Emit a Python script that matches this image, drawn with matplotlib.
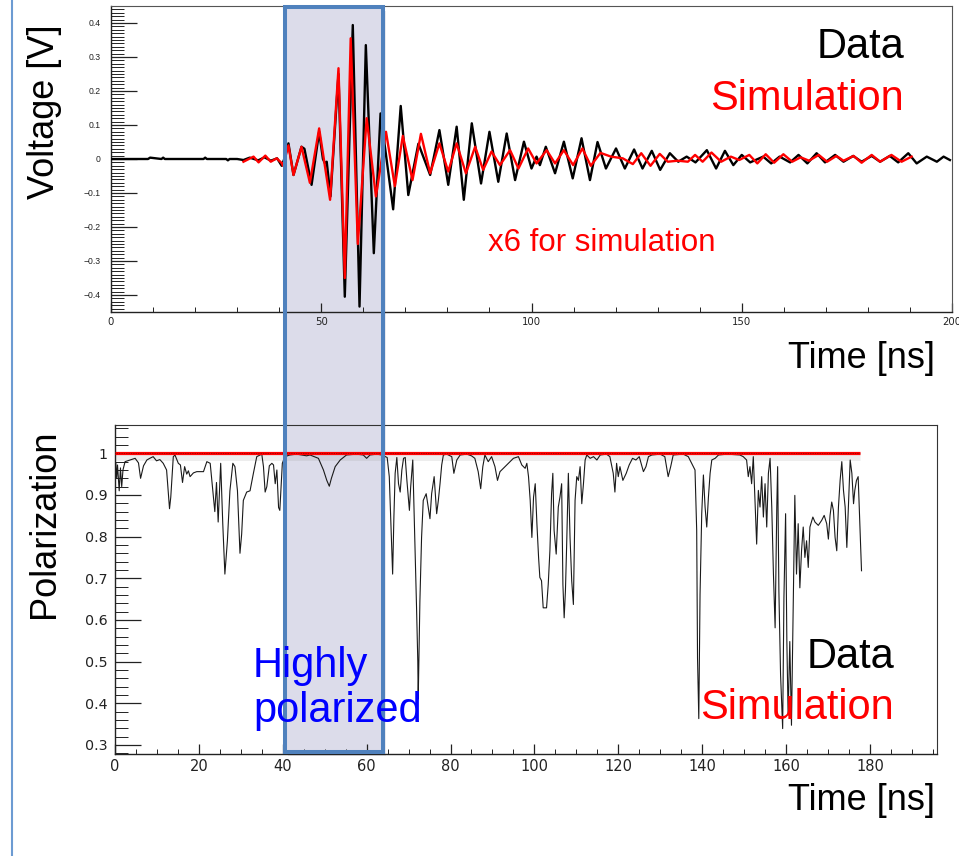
import matplotlib
matplotlib.use("Agg")
import matplotlib.pyplot as plt
from matplotlib import font_manager as fm
from matplotlib.patches import Rectangle
from matplotlib.lines import Line2D
from matplotlib.ticker import MultipleLocator

# ---------------- data: top panel (voltage waveform) ----------------
data_t = [0, 8.8, 9.3, 12.0, 12.4, 12.8, 22.0, 22.4, 22.8, 27.4, 27.8, 28.2, 30.0,
          31.5, 33.0, 35.0, 36.5, 38.0, 39.5, 40.6, 41.2, 42.2, 43.4, 45.3, 46.0,
          47.7, 49.5, 50.4, 50.9, 51.3, 52.2, 54.1, 55.6, 57.5, 59.1, 60.6, 62.5,
          64.1, 67.1, 68.9, 70.7, 73.1, 75.9, 78.1, 80.2, 82.2, 83.9, 85.8, 88.0,
          90.0, 92.1, 94.1, 96.1, 98.2, 100.0, 101.2, 102.0, 103.4, 105.6, 107.7,
          109.8, 111.9, 113.9, 115.7, 117.7, 120.1, 122.2, 124.4, 126.4, 128.6,
          130.6, 132.9, 134.9, 136.9, 139.0, 141.7, 143.9, 146.0, 148.0, 150.0,
          152.0, 155.1, 157.0, 159.0, 161.5, 163.5, 165.6, 167.8, 169.8, 172.2,
          174.2, 176.5, 178.5, 180.9, 182.9, 185.2, 187.2, 189.6, 191.6, 194.0,
          196.4, 198.0, 199.5]
data_v = [0, 0, 0.004, 0, 0.004, 0, 0, 0.004, 0, 0, -0.004, 0, 0,
          -0.003, 0.004, -0.004, 0.005, -0.005, 0.002, -0.02, 0.0, 0.046, -0.047, 0.036, 0.03,
          -0.076, 0.08, 0.0, -0.013, -0.008, -0.11, 0.25, -0.405, 0.394, -0.434, 0.335, -0.277,
          0.134, -0.148, 0.156, -0.106, 0.045, -0.047, 0.085, -0.076, 0.095, -0.12, 0.105, -0.072,
          0.08, -0.067, 0.075, -0.062, 0.051, -0.028, 0.007, -0.018, 0.036, -0.042, 0.051,
          -0.057, 0.061, -0.062, 0.05, -0.028, 0.031, -0.028, 0.028, -0.028, 0.024,
          -0.032, 0.017, -0.008, 0.007, -0.01, 0.026, -0.028, 0.024, -0.018, 0.012,
          -0.01, 0.007, -0.013, 0.007, -0.01, 0.012, -0.013, 0.017, -0.01, 0.012,
          -0.008, 0.009, -0.008, 0.009, -0.008, 0.009, -0.01, 0.017, -0.013, 0.007,
          -0.008, 0.007, -0.003]

sim_t = [31.5, 33.9, 35.1, 36.7, 38.0, 39.4, 40.6, 40.9, 42.2, 43.4, 45.3, 47.3, 49.5,
         52.1, 54.1, 55.6, 57.0, 58.7, 60.8, 63.0, 65.4, 67.5, 69.4, 71.7, 73.7, 75.9,
         78.1, 80.2, 82.2, 84.4, 86.6, 88.5, 90.5, 92.5, 94.9, 96.9, 99.2, 101.2, 103.6,
         105.6, 107.7, 109.9, 112.1, 114.1, 116.4, 118.9, 121.7, 124.1, 126.1, 128.3,
         130.5, 132.4, 134.8, 137.2, 138.9, 140.7, 142.8, 145.1, 147.4, 149.4, 151.8,
         153.7, 155.7, 157.7, 159.9, 162.0, 164.0, 166.0, 168.3, 170.3, 172.5, 174.2,
         176.6, 178.5, 180.9, 182.9, 185.6, 188.0, 190.4]
sim_v = [-0.008, 0.007, -0.01, 0.01, -0.008, 0.002, -0.012, -0.02, 0.04, -0.047, 0.036, -0.07, 0.09,
         -0.12, 0.267, -0.35, 0.355, -0.25, 0.12, -0.11, 0.08, -0.08, 0.068, -0.062, 0.074, -0.042,
         0.046, -0.037, 0.046, -0.042, 0.036, -0.032, 0.022, -0.018, 0.026, -0.028, 0.031, -0.013, 0.026,
         -0.013, 0.026, -0.018, 0.031, -0.02, 0.018, 0.007, 0.002, -0.015, 0.017, -0.02,
         0.015, -0.008, -0.005, -0.008, 0.012, -0.008, 0.019, -0.008, 0.007, -0.003, 0.012,
         -0.013, 0.014, -0.011, 0.014, -0.008, 0.005, -0.005, 0.012, -0.008, 0.009, -0.005,
         0.009, -0.011, 0.012, -0.008, 0.012, -0.008, 0.007]

# ---------------- data: bottom panel (polarization) ----------------
pol_t = [0.2, 0.4, 0.6, 1.0, 1.3, 1.6, 1.9, 2.4, 3.6, 4.8, 5.6, 6.1, 6.8, 7.6, 8.3, 9.1, 9.9,
         10.7, 11.5, 12.3, 13.0, 13.3, 13.9, 14.3, 15.1, 15.6, 16.1, 16.6, 17.1, 17.5, 17.9,
         18.7, 19.5, 21.1, 21.9, 22.7, 23.4, 23.8, 24.2, 24.6, 25.2, 25.7, 26.2, 26.8, 27.4,
         28.1, 28.6, 29.2, 29.8, 30.2, 30.6, 31.4, 32.2, 33.0, 33.8, 35.0, 35.4, 35.8, 36.2,
         36.8, 37.4, 37.8, 38.2, 38.6, 39.0, 39.3, 39.9, 40.5,
         41.7, 43.3, 45.7, 46.5, 48.5, 49.7, 50.5, 51.1, 51.6, 52.5, 53.7, 55.2, 57.6, 59.2,
         60.0, 60.8, 62.4, 63.6,
         64.9, 65.4, 65.7, 66.2, 66.5, 66.8, 67.2, 67.6, 68.0, 68.4, 68.8, 69.2, 69.6, 70.2,
         70.5, 71.0, 71.5, 71.9, 72.2, 72.3, 72.7, 73.1, 73.5, 74.2, 74.7, 75.1, 75.5, 76.1,
         76.7, 77.1, 77.5, 77.9, 78.3, 79.1, 80.3, 80.8, 81.5, 82.3, 83.9, 85.0, 85.8, 86.6,
         87.2, 87.7, 88.2, 89.0, 89.8, 90.6, 91.2, 91.8, 92.6, 93.8, 95.0, 96.2, 97.0, 97.8,
         98.2, 98.6, 99.0, 99.4, 99.8, 100.2, 100.6, 101.0, 101.3, 101.7, 102.1, 102.9, 103.3,
         103.7, 104.1, 104.4, 104.7, 105.2, 105.7, 106.1, 106.5, 106.8, 107.1, 107.4, 107.7,
         108.1, 108.5, 108.9, 109.3, 109.7, 110.1, 110.5, 110.9, 111.3, 111.7, 112.1, 112.5,
         113.3, 114.1, 114.9, 115.7, 117.2, 118.0, 118.8, 119.2, 119.6, 120.0, 120.4, 121.1,
         121.9, 122.6, 123.4, 124.2, 125.0, 126.0, 126.6, 127.2, 128.0, 130.0, 131.1, 131.9,
         132.5, 133.1, 135.5, 136.7, 137.5, 138.3, 138.7, 138.9, 139.2, 139.5, 139.9, 140.3,
         140.7, 141.1, 141.5, 141.9, 142.3, 143.1, 143.9, 146.0, 149.0, 149.8, 150.6, 151.0,
         151.4, 151.8, 152.2, 152.6, 153.0, 153.4, 153.8, 154.2, 154.6, 155.0, 155.4, 155.8,
         156.2, 156.6, 157.0, 157.4, 157.8, 158.0, 158.3, 158.7, 159.2, 159.5, 159.9, 160.2,
         160.5, 160.9, 161.3, 161.7, 162.1, 162.5, 162.9, 163.3, 163.7, 164.1, 164.5, 164.9,
         165.3, 165.7, 166.4, 166.9, 167.7, 168.5, 169.1, 169.7, 170.1, 170.5, 170.9, 171.3,
         171.7, 172.1, 172.5, 172.9, 173.3, 173.7, 174.1, 174.5, 174.9, 175.3, 175.7, 176.1,
         176.4, 176.8, 177.2, 177.6, 178.0]
pol_p = [0.976, 0.94, 0.972, 0.91, 0.965, 0.92, 0.96, 0.98, 0.984, 0.988, 0.977, 0.94, 0.97, 0.984, 0.988, 0.992, 0.982,
         0.985, 0.976, 0.96, 0.867, 0.895, 0.992, 0.996, 0.976, 0.972, 0.93, 0.968, 0.95, 0.958, 0.944,
         0.953, 0.956, 0.956, 0.98, 0.976, 0.903, 0.86, 0.93, 0.835, 0.976, 0.83, 0.71, 0.79, 0.91,
         0.976, 0.968, 0.91, 0.76, 0.806, 0.887, 0.907, 0.91, 0.952, 0.992, 0.998, 0.968, 0.907, 0.92,
         0.97, 0.976, 0.972, 0.927, 0.96, 0.87, 0.863, 0.976, 0.992,
         0.996, 0.998, 0.994, 0.996, 0.988, 0.96, 0.935, 0.921, 0.94, 0.968, 0.984, 0.996, 0.998, 0.996,
         0.988, 0.996, 0.998, 0.996,
         0.99, 0.944, 0.855, 0.71, 0.847, 0.952, 0.99, 0.927, 0.907, 0.96, 0.988, 0.99, 0.935, 0.863,
         0.919, 0.984, 0.79, 0.63, 0.5, 0.41, 0.645, 0.798, 0.887, 0.903, 0.87, 0.843, 0.903, 0.944,
         0.855, 0.887, 0.927, 0.972, 0.996, 0.998, 0.992, 0.952, 0.984, 0.996, 0.998, 0.994, 0.988, 0.956,
         0.915, 0.968, 0.996, 0.98, 0.992, 0.968, 0.935, 0.956, 0.964, 0.976, 0.988, 0.992, 0.972, 0.964,
         0.976, 0.944, 0.887, 0.798, 0.895, 0.927, 0.831, 0.75, 0.702, 0.694, 0.629, 0.629, 0.685,
         0.766, 0.903, 0.952, 0.815, 0.758, 0.871, 0.895, 0.927, 0.685, 0.605, 0.669, 0.782,
         0.952, 0.798, 0.694, 0.637, 0.887, 0.944, 0.935, 0.968, 0.879, 0.927, 0.984, 0.996,
         0.988, 0.992, 0.984, 0.996, 0.998, 0.992, 0.952, 0.907, 0.976, 0.944, 0.968, 0.935,
         0.952, 0.972, 0.988, 0.984, 0.992, 0.956, 0.968, 0.992, 0.996, 0.998, 0.992, 0.944,
         0.968, 0.996, 0.998, 0.992, 0.976, 0.96, 0.815, 0.508, 0.363, 0.661, 0.855, 0.948,
         0.871, 0.823, 0.895, 0.952, 0.984, 0.988, 0.996, 0.998, 0.996, 0.992, 0.984, 0.944,
         0.968, 0.927, 0.992, 0.887, 0.782, 0.911, 0.871, 0.944, 0.847, 0.927, 0.823, 0.952,
         0.988, 0.871, 0.71, 0.581, 0.871, 0.968, 0.669, 0.468, 0.339, 0.653, 0.855, 0.548,
         0.371, 0.548, 0.347, 0.629, 0.899, 0.71, 0.831, 0.677, 0.766, 0.823, 0.75, 0.79,
         0.726, 0.823, 0.847, 0.835, 0.827, 0.839, 0.851, 0.831, 0.794, 0.851, 0.883, 0.863,
         0.798, 0.766, 0.871, 0.935, 0.98, 0.911, 0.871, 0.774, 0.879, 0.984, 0.952, 0.879,
         0.911, 0.935, 0.944, 0.831, 0.718]

sim_pol_t = [0.0, 177.6]
sim_pol_p = [1.0, 1.0]

top_xticks = [0, 50, 100, 150, 200]
top_yticks = [-0.4, -0.3, -0.2, -0.1, 0, 0.1, 0.2, 0.3, 0.4]
top_ytick_labels = ["\u22120.4", "\u22120.3", "\u22120.2", "\u22120.1", "0", "0.1", "0.2", "0.3", "0.4"]
bot_xticks = [0, 20, 40, 60, 80, 100, 120, 140, 160, 180]
bot_yticks = [0.3, 0.4, 0.5, 0.6, 0.7, 0.8, 0.9, 1.0]
bot_ytick_labels = ["0.3", "0.4", "0.5", "0.6", "0.7", "0.8", "0.9", "1"]

# ---------------- fonts ----------------
names = {f.name for f in fm.fontManager.ttflist}
SANS = "Liberation Sans" if "Liberation Sans" in names else "DejaVu Sans"
NARROW = "Liberation Sans Narrow" if "Liberation Sans Narrow" in names else SANS
narrow_size = 30 if NARROW != SANS else 26
WIDE = "DejaVu Sans"

W, H = 959, 856
fig = plt.figure(figsize=(W / 100, H / 100), dpi=100)
fig.patch.set_facecolor("white")

def fx(px):
    return px / W

def fy(py):
    return 1 - py / H

# highlight box fill (behind transparent axes)
fig.add_artist(Rectangle((fx(288), fy(756)), fx(98), 745 / H, transform=fig.transFigure,
                         facecolor="#c8c8d2", edgecolor="none", alpha=0.35, zorder=-3))
fig.add_artist(Rectangle((fx(285), fy(752)), fx(98), 745 / H, transform=fig.transFigure,
                         facecolor="#dcdcea", edgecolor="none", zorder=-2))

# ---------------- top axes ----------------
ax1 = fig.add_axes([fx(111), fy(312), fx(952 - 111), (312 - 6) / H])
ax1.set_facecolor("none")
ax1.plot(data_t, data_v, color="black", lw=1.7, zorder=3, solid_joinstyle="round")
ax1.plot(sim_t, sim_v, color="red", lw=1.7, zorder=4, solid_joinstyle="round")
ax1.set_xlim(0, 200)
ax1.set_ylim(-0.45, 0.45)
ax1.set_xticks(top_xticks)
ax1.xaxis.set_minor_locator(MultipleLocator(10))
ax1.set_yticks(top_yticks)
ax1.set_yticklabels(top_ytick_labels)
ax1.yaxis.set_minor_locator(MultipleLocator(0.01))
ax1.tick_params(axis="y", which="major", direction="in", length=18.5, width=0.9,
                labelsize=6.2, pad=7.5, colors="#222222", right=False)
ax1.tick_params(axis="y", which="minor", direction="in", length=9.3, width=0.7, right=False,
                colors="#222222")
ax1.tick_params(axis="x", which="major", direction="in", length=6.3, width=0.9,
                labelsize=7.3, pad=3.5, colors="#222222", top=False)
ax1.tick_params(axis="x", which="minor", direction="in", length=3.6, width=0.7, top=False,
                colors="#222222")
for lab in ax1.get_yticklabels():
    lab.set_family(SANS)
for lab in ax1.get_xticklabels():
    lab.set_family(WIDE)
for s in ["top", "right"]:
    ax1.spines[s].set_color("#555555")
    ax1.spines[s].set_linewidth(0.8)
for s in ["left", "bottom"]:
    ax1.spines[s].set_color("#222222")
    ax1.spines[s].set_linewidth(1.0)

# ---------------- bottom axes ----------------
ax2 = fig.add_axes([fx(115), fy(754), fx(937 - 115), (754 - 425) / H])
ax2.set_facecolor("none")
ax2.plot(sim_pol_t, [p - 0.008 for p in sim_pol_p], color="#999999",
         lw=5, alpha=0.18, zorder=2, solid_capstyle="butt")
ax2.plot(pol_t, pol_p, color="#1a1a1a", lw=0.8, zorder=3)
ax2.plot(sim_pol_t, sim_pol_p, color="red", lw=2.3, zorder=4, solid_capstyle="butt")
ax2.plot(sim_pol_t, sim_pol_p, color="#550000", lw=0.5, ls=(0, (1, 1.5)), zorder=5)
ax2.set_xlim(0, 196)
ax2.set_ylim(0.278, 1.068)
ax2.set_xticks(bot_xticks)
ax2.xaxis.set_minor_locator(MultipleLocator(5))
ax2.set_yticks(bot_yticks)
ax2.set_yticklabels(bot_ytick_labels)
ax2.yaxis.set_minor_locator(MultipleLocator(0.02))
ax2.tick_params(axis="y", which="major", direction="in", length=19, width=0.9,
                labelsize=10.3, pad=5, colors="#222222", right=False)
ax2.tick_params(axis="y", which="minor", direction="in", length=9.5, width=0.7, right=False,
                colors="#222222")
ax2.tick_params(axis="x", which="major", direction="in", length=7.2, width=0.9,
                labelsize=10.5, pad=3.5, colors="#222222", top=False)
ax2.tick_params(axis="x", which="minor", direction="in", length=3.6, width=0.7, top=False,
                colors="#222222")
for lab in ax2.get_xticklabels() + ax2.get_yticklabels():
    lab.set_family(WIDE)
for s in ["top", "right"]:
    ax2.spines[s].set_color("#333333")
    ax2.spines[s].set_linewidth(0.8)
for s in ["left", "bottom"]:
    ax2.spines[s].set_color("#222222")
    ax2.spines[s].set_linewidth(1.0)

# ---------------- highlight box border & slide line ----------------
fig.add_artist(Rectangle((fx(285), fy(752)), fx(98), 745 / H, transform=fig.transFigure,
                         facecolor="none", edgecolor="#4f81bd", lw=2.9, zorder=10))
fig.add_artist(Line2D([fx(12), fx(12)], [0, 1], transform=fig.transFigure,
                      color="#6c9bd2", lw=1.5, zorder=10))

# ---------------- texts ----------------
fig.text(fx(45), fy(112), "Voltage [V]", rotation=90, ha="center", va="center",
         fontsize=26, family=SANS)
fig.text(fx(45), fy(524), "Polarization", rotation=90, ha="center", va="center",
         fontsize=26, family=SANS)
fig.text(fx(904), fy(58), "Data", ha="right", va="baseline", fontsize=30, family=SANS,
         color="black", zorder=12)
fig.text(fx(904), fy(110), "Simulation", ha="right", va="baseline", fontsize=30, family=SANS,
         color="red", zorder=12)
fig.text(fx(488), fy(251), "x6 for simulation", ha="left", va="baseline", fontsize=22.5,
         family=SANS, color="red", zorder=12)
fig.text(fx(935), fy(358), "Time [ns]", ha="right", va="center", fontsize=narrow_size,
         family=NARROW, color="black", zorder=12)
fig.text(fx(894), fy(668), "Data", ha="right", va="baseline", fontsize=30, family=SANS,
         color="black", zorder=12)
fig.text(fx(894), fy(719), "Simulation", ha="right", va="baseline", fontsize=30, family=SANS,
         color="red", zorder=12)
fig.text(fx(253), fy(677), "Highly", ha="left", va="baseline", fontsize=30, family=SANS,
         color="#0000ff", zorder=12)
fig.text(fx(253), fy(722), "polarized", ha="left", va="baseline", fontsize=30, family=SANS,
         color="#0000ff", zorder=12)
fig.text(fx(935), fy(801), "Time [ns]", ha="right", va="center", fontsize=narrow_size,
         family=NARROW, color="black", zorder=12)

fig.savefig("out.png", dpi=100)
